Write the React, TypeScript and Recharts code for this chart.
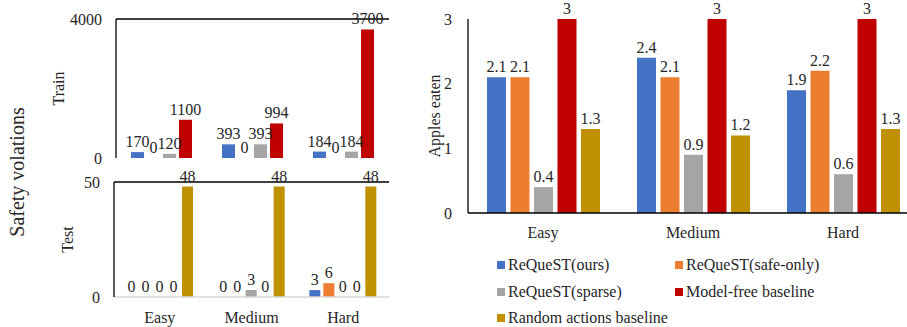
import React from "react";
import { BarChart, Bar, XAxis, YAxis, LabelList, ReferenceLine, Legend, Label } from "recharts";

const categories = ["Easy", "Medium", "Hard"];
const seriesNames = ["ReQueST(ours)", "ReQueST(safe-only)", "ReQueST(sparse)", "Model-free baseline", "Random actions baseline"];
const seriesColors = ["#4472C4", "#ED7D31", "#A5A5A5", "#C00000", "#BF9000"];

// safety violations, train
const trainOurs = [170, 393, 184];
const trainSafeOnly = [0, 0, 0];
const trainSparse = [120, 393, 184];
const trainModelFree = [1100, 994, 3700];

// safety violations, test
const testOurs = [0, 0, 3];
const testSafeOnly = [0, 0, 6];
const testSparse = [0, 3, 0];
const testModelFree = [0, 0, 0];
const testRandom = [48, 48, 48];

// apples eaten
const applesOurs = [2.1, 2.4, 1.9];
const applesSafeOnly = [2.1, 2.1, 2.2];
const applesSparse = [0.4, 0.9, 0.6];
const applesModelFree = [3, 3, 3];
const applesRandom = [1.3, 1.2, 1.3];

const trainTicks = [0, 4000];
const testTicks = [0, 50];
const applesTicks = [0, 1, 2, 3];

const makeRows = (cols: number[][]) =>
  categories.map((name, i) => {
    const row: Record<string, string | number> = { name };
    cols.forEach((col, j) => (row["s" + j] = col[i]));
    return row;
  });

const trainData = makeRows([trainOurs, trainSafeOnly, trainSparse, trainModelFree]);
const testData = makeRows([testOurs, testSafeOnly, testSparse, testModelFree, testRandom]);
const applesData = makeRows([applesOurs, applesSafeOnly, applesSparse, applesModelFree, applesRandom]);

const FONT = "'Liberation Serif', serif";
const TXT = "#262626";
const tickStyle = { fontSize: 16, fontFamily: FONT, fill: TXT };

const bars = (n: number) =>
  Array.from({ length: n }, (_, j) => (
    <Bar key={j} dataKey={"s" + j} name={seriesNames[j]} fill={seriesColors[j]} minPointSize={0.01} isAnimationActive={false}>
      <LabelList dataKey={"s" + j} position="top" fontSize={16} fill={TXT} />
    </Bar>
  ));

const LegendGrid = (props: any) => {
  const payload = [...(props.payload || [])].sort(
    (a: any, b: any) => seriesNames.indexOf(a.value) - seriesNames.indexOf(b.value)
  );
  return (
    <div style={{ display: "grid", gridTemplateColumns: "178px 178px", fontFamily: FONT, fontSize: 16, color: TXT }}>
      {payload.map((p: any) => (
        <div key={p.value} style={{ display: "flex", alignItems: "center", height: 26.5, whiteSpace: "nowrap" }}>
          <span style={{ width: 8, height: 8, background: p.color, marginRight: 3, display: "inline-block" }} />
          {p.value}
        </div>
      ))}
    </div>
  );
};

export default function App() {
  return (
    <div style={{ position: "absolute", left: 0, top: 0, width: 907, height: 327, overflow: "hidden", background: "#fff", fontFamily: FONT }}>
      <style>{`.recharts-wrapper text, .recharts-legend-wrapper { font-family: 'Liberation Serif', serif !important; }`}</style>
      <svg width={40} height={327} style={{ position: "absolute", left: 0, top: 0 }}>
        <text x={24} y={172} transform="rotate(-90 24 172)" textAnchor="middle" fontFamily={FONT} fontSize={20} fill={TXT}>
          Safety volations
        </text>
      </svg>

      <div style={{ position: "absolute", left: 0, top: 0 }}>
        <BarChart width={400} height={170} data={trainData} margin={{ top: 19, right: 11, bottom: 12, left: 0 }} barSize={13} barGap={3}>
          <XAxis dataKey="name" tick={false} tickLine={false} height={0} axisLine={{ stroke: "#000", strokeWidth: 1.3 }} />
          <YAxis domain={[0, 4000]} ticks={trainTicks} width={116} tickLine={false} tickMargin={8} tick={tickStyle} axisLine={{ stroke: "#000", strokeWidth: 1.3 }}>
            <Label value="Train" angle={-90} position="center" fontSize={16} fill={TXT} />
          </YAxis>
          <YAxis yAxisId="r" orientation="right" domain={[0, 1]} width={0} tick={false} tickLine={false} axisLine={{ stroke: "#000", strokeWidth: 1.3 }} />
          <ReferenceLine y={4000} stroke="#000" strokeWidth={1.3} />
          {bars(4)}
        </BarChart>
      </div>

      <div style={{ position: "absolute", left: 0, top: 165 }}>
        <BarChart width={400} height={162} data={testData} margin={{ top: 17, right: 11, bottom: 0, left: 0 }} barSize={11} barGap={3}>
          <XAxis dataKey="name" tickLine={false} tickMargin={9} height={30} tick={tickStyle} axisLine={{ stroke: "#D9D9D9", strokeWidth: 1.3 }} />
          <YAxis domain={[0, 50]} ticks={testTicks} width={114} tickLine={false} tickMargin={8} tick={tickStyle} axisLine={{ stroke: "#000", strokeWidth: 1.3 }}>
            <Label value="Test" angle={-90} position="center" dx={10} fontSize={16} fill={TXT} />
          </YAxis>
          <YAxis yAxisId="r" orientation="right" domain={[0, 1]} width={0} tick={false} tickLine={false} axisLine={{ stroke: "#000", strokeWidth: 1.3 }} />
          <ReferenceLine y={50} stroke="#000" strokeWidth={1.3} />
          {bars(5)}
        </BarChart>
      </div>

      <div style={{ position: "absolute", left: 410, top: 0 }}>
        <BarChart width={508} height={327} data={applesData} margin={{ top: 19, right: 0, bottom: 84, left: 0 }} barSize={19} barGap={4.5}>
          <XAxis dataKey="name" tickLine={false} tickMargin={8} height={30} tick={tickStyle} axisLine={{ stroke: "#000", strokeWidth: 1.3 }} />
          <YAxis domain={[0, 3]} ticks={applesTicks} width={58} tickLine={false} tickMargin={10} tick={tickStyle} axisLine={{ stroke: "#000", strokeWidth: 1.3 }}>
            <Label value="Apples eaten" angle={-90} position="center" dx={-5} fontSize={16} fill={TXT} />
          </YAxis>
          <Legend
            layout="vertical"
            align="center"
            verticalAlign="middle"
            content={LegendGrid}
            wrapperStyle={{ left: 87, top: 252, width: 380, height: 80 }}
          />
          {bars(5)}
        </BarChart>
      </div>
    </div>
  );
}
